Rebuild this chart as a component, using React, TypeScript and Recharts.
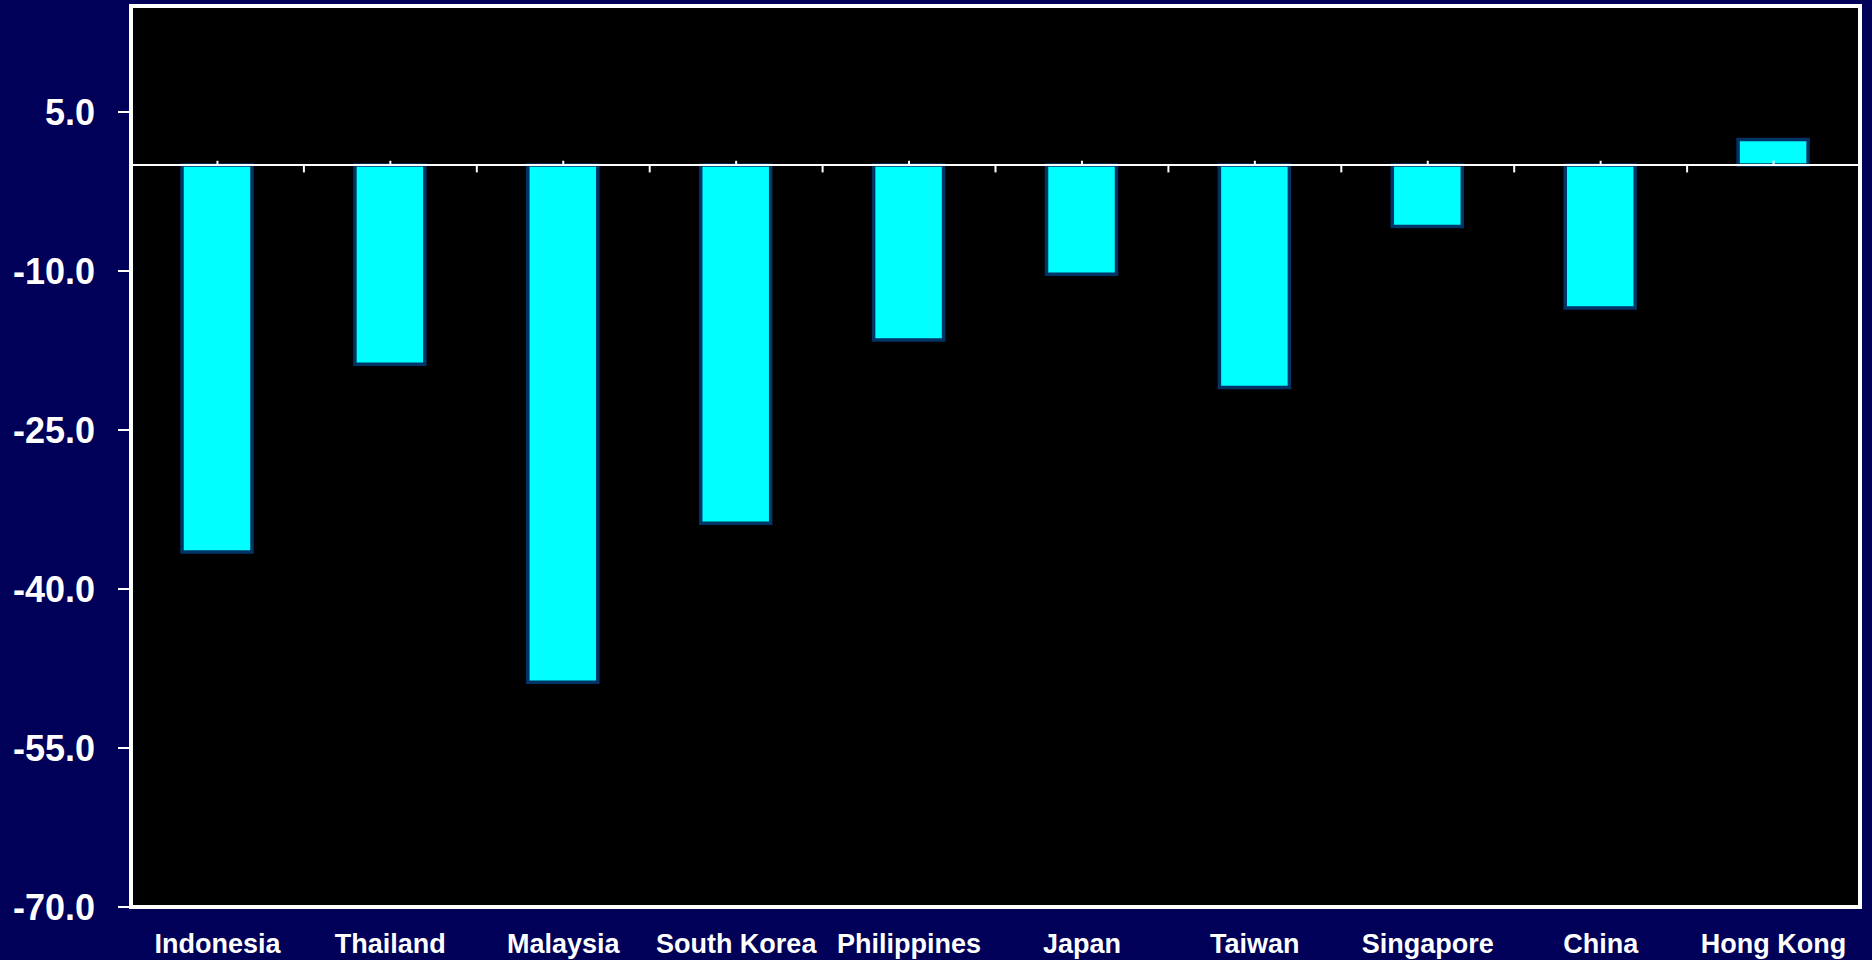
import React from 'react';
import { BarChart, Bar, XAxis, YAxis, ReferenceArea, ReferenceLine } from 'recharts';

const categories = ['Indonesia', 'Thailand', 'Malaysia', 'South Korea', 'Philippines', 'Japan', 'Taiwan', 'Singapore', 'China', 'Hong Kong'];
const values = [-36.5, -18.8, -48.8, -33.8, -16.5, -10.3, -21.0, -5.8, -13.5, 2.4];
const yTicks = [5, -10, -25, -40, -55, -70];
const yDomain = [-70, 15];

const data = categories.map((name, i) => ({ name, value: values[i], idx: i }));
const boundaries = categories.slice(1).map((_, i) => i + 1);

const FONT = '"Liberation Sans", Arial, sans-serif';
const BG = '#000058';

export default function App() {
  return (
    <div style={{ position: 'absolute', left: 0, top: 0, width: 1872, height: 960, background: BG }}>
      <BarChart
        width={1872}
        height={960}
        data={data}
        margin={{ top: 6, right: 12, bottom: 0, left: 0 }}
        barCategoryGap={0}
      >
        <XAxis
          dataKey="name"
          axisLine={false}
          tickLine={false}
          tickSize={0}
          tickMargin={27}
          height={53}
          interval={0}
          tick={{ fill: '#ffffff', fontSize: 27, fontWeight: 'bold', fontFamily: FONT }}
        />
        <XAxis
          xAxisId="num"
          dataKey="idx"
          type="number"
          domain={[0, categories.length]}
          allowDataOverflow
          hide
        />
        <YAxis
          type="number"
          domain={yDomain}
          ticks={yTicks}
          width={131}
          axisLine={false}
          tickSize={13}
          tickMargin={23}
          tickLine={{ stroke: '#ffffff', strokeWidth: 2 }}
          tickFormatter={(v: number) => v.toFixed(1)}
          tick={{ fill: '#ffffff', fontSize: 36, fontWeight: 'bold', fontFamily: FONT }}
        />
        <ReferenceArea
          xAxisId="num"
          x1={0}
          x2={categories.length}
          y1={yDomain[0]}
          y2={yDomain[1]}
          fill="#000000"
          fillOpacity={1}
          stroke="#ffffff"
          strokeWidth={4}
          ifOverflow="visible"
        />
        <Bar dataKey="value" fill="#00ffff" stroke="#003366" strokeWidth={3.5} barSize={70} isAnimationActive={false} />
        <ReferenceLine y={0} stroke="#ffffff" strokeWidth={2} />
        {boundaries.map((b) => (
          <ReferenceLine
            key={'b' + b}
            xAxisId="num"
            segment={[{ x: b, y: 0 }, { x: b, y: -0.7 }]}
            stroke="#ffffff"
            strokeWidth={2}
          />
        ))}
        {categories.map((c) => (
          <ReferenceLine
            key={'c' + c}
            segment={[{ x: c, y: 0 }, { x: c, y: 0.4 }]}
            stroke="#ffffff"
            strokeWidth={2}
          />
        ))}
      </BarChart>
    </div>
  );
}
